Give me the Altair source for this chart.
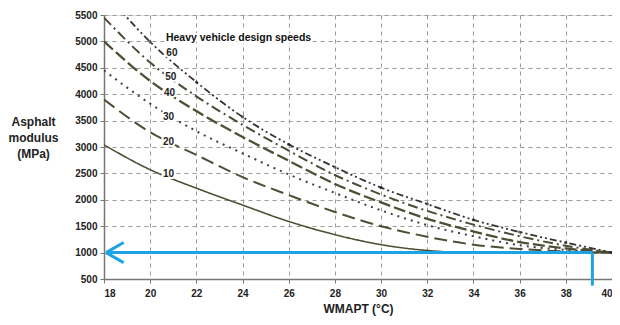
import altair as alt
import pandas as pd

# ---- data ----
temps = [18, 20, 22, 24, 26, 28, 30, 32, 34, 36, 38, 40]
speeds = ["10", "20", "30", "40", "50", "60"]
mod_10 = [3040, 2570, 2220, 1900, 1590, 1340, 1150, 1040, 1000, 1000, 1000, 1000]
mod_20 = [3900, 3280, 2850, 2430, 2090, 1770, 1500, 1300, 1150, 1070, 1020, 1000]
mod_30 = [4450, 3820, 3300, 2880, 2480, 2130, 1800, 1520, 1310, 1140, 1050, 1000]
mod_40 = [5000, 4250, 3680, 3190, 2740, 2300, 1950, 1640, 1400, 1200, 1080, 1000]
mod_50 = [5450, 4600, 3960, 3420, 2930, 2470, 2100, 1790, 1530, 1310, 1130, 1000]
mod_60 = [5950, 4990, 4230, 3570, 3050, 2620, 2230, 1920, 1620, 1390, 1190, 1000]
series = [mod_10, mod_20, mod_30, mod_40, mod_50, mod_60]

# curve labels (speed) positions in data units
label_t = [20.55, 20.55, 20.55, 20.6, 20.65, 20.7]
label_m = [2490, 3100, 3570, 4020, 4330, 4780]
legend_title = "Heavy  vehicle design speeds"
legend_t = [20.68]
legend_m = [5070]

# blue annotation (data units)
target_temp = 39.15
target_mod = 1000
arrow_tip_t = 18.09
arrow_arm_t = 18.85
arrow_arm_dm = 190
vline_bottom = 375

x_ticks = list(range(18, 41, 2))
y_ticks = list(range(500, 5501, 500))

styles = {
    "10": dict(dash=[1, 0], width=1.6, color="#4f4f35"),
    "20": dict(dash=[13, 6], width=2.0, color="#4f4f35"),
    "30": dict(dash=[2, 5], width=2.0, color="#404040"),
    "40": dict(dash=[12, 4], width=2.3, color="#4f4f35"),
    "50": dict(dash=[10, 4, 2, 4], width=2.0, color="#4a4a35"),
    "60": dict(dash=[7, 3, 2, 3, 2, 3], width=1.8, color="#333333"),
}

FONT = "Liberation Sans"

rows = []
for sp, vals in zip(speeds, series):
    for t, m in zip(temps, vals):
        rows.append({"speed": sp, "T": t, "E": m})
df = pd.DataFrame(rows)

xs = alt.Scale(domain=[18, 40], nice=False)
ys = alt.Scale(domain=[500, 5500], nice=False)

x_axis = alt.Axis(
    values=x_ticks, format="d", labelOverlap=False, title="WMAPT (°C)", grid=True,
    gridDash=[4, 4], gridColor="#9a9a9a",
    domainColor="#777", domainWidth=1.5, tickColor="#777", tickSize=4,
    labelFont=FONT, labelFontWeight="bold", labelFontSize=10, labelColor="#222", labelPadding=5,
    titleFont=FONT, titleFontWeight="bold", titleFontSize=12, titleColor="#222", titlePadding=5)
y_axis = alt.Axis(
    values=y_ticks, format="d", labelOverlap=False, title=["Asphalt", "modulus", "(MPa)"],
    grid=True, gridDash=[4, 4],
    gridColor="#9a9a9a", domainColor="#777", domainWidth=1.5, tickColor="#777", tickSize=4,
    labelFont=FONT, labelFontWeight="bold", labelFontSize=10, labelColor="#222", labelPadding=3,
    titleFont=FONT, titleFontWeight="bold", titleFontSize=12, titleColor="#222",
    titleAngle=0, titleAlign="center", titleBaseline="top", titleX=-71, titleY=101,
    titleLineHeight=16)

X = lambda f: alt.X(f, scale=xs, axis=x_axis)
Y = lambda f: alt.Y(f, scale=ys, axis=y_axis)

base = alt.Chart(df)
layers = []
for sp in speeds:
    st = styles[sp]
    layers.append(
        base.transform_filter(alt.datum.speed == sp)
        .mark_line(interpolate="monotone", strokeDash=st["dash"], strokeWidth=st["width"],
                   color=st["color"], clip=True)
        .encode(x=X("T:Q"), y=Y("E:Q"))
    )

# small markers on the top curve
layers.append(
    base.transform_filter((alt.datum.speed == "60") & (alt.datum.T > 18))
    .mark_point(filled=True, size=10, color="#222", clip=True)
    .encode(x=X("T:Q"), y=Y("E:Q"))
)

lab_df = pd.DataFrame({"T": label_t, "E": label_m, "txt": speeds})
for halo in (True, False):
    kw = dict(stroke="white", strokeWidth=4) if halo else {}
    layers.append(
        alt.Chart(lab_df).mark_text(align="left", baseline="middle", font=FONT, fontWeight="bold",
                                    fontSize=10, color="#222", **kw)
        .encode(x=X("T:Q"), y=Y("E:Q"), text="txt:N")
    )

leg_df = pd.DataFrame({"T": legend_t, "E": legend_m, "txt": [legend_title]})
for halo in (True, False):
    kw = dict(stroke="white", strokeWidth=4) if halo else {}
    layers.append(
        alt.Chart(leg_df).mark_text(align="left", baseline="middle", font=FONT, fontWeight="bold",
                                    fontSize=10.5, color="#111", **kw)
        .encode(x=X("T:Q"), y=Y("E:Q"), text="txt:N")
    )

# blue arrow annotation
seg_df = pd.DataFrame({
    "x": [target_temp, target_temp, arrow_tip_t, arrow_tip_t],
    "x2": [arrow_tip_t, target_temp, arrow_arm_t, arrow_arm_t],
    "y": [target_mod, target_mod, target_mod, target_mod],
    "y2": [target_mod, vline_bottom, target_mod + arrow_arm_dm, target_mod - arrow_arm_dm],
})
layers.append(
    alt.Chart(seg_df).mark_rule(color="#1ba3e3", strokeWidth=3)
    .encode(x=X("x:Q"), x2="x2:Q", y=Y("y:Q"), y2="y2:Q")
)

chart = alt.layer(*layers).properties(
    width=508, height=264,
    autosize=alt.AutoSizeParams(type="none"),
    padding={"left": 96, "top": 7, "right": 0, "bottom": 38},
).configure_view(stroke="#aaa", strokeWidth=1).configure_axis(
    labelOverlap=False
).configure(background="white")

chart.save("out.html", embed_options={"renderer": "svg", "actions": False})
